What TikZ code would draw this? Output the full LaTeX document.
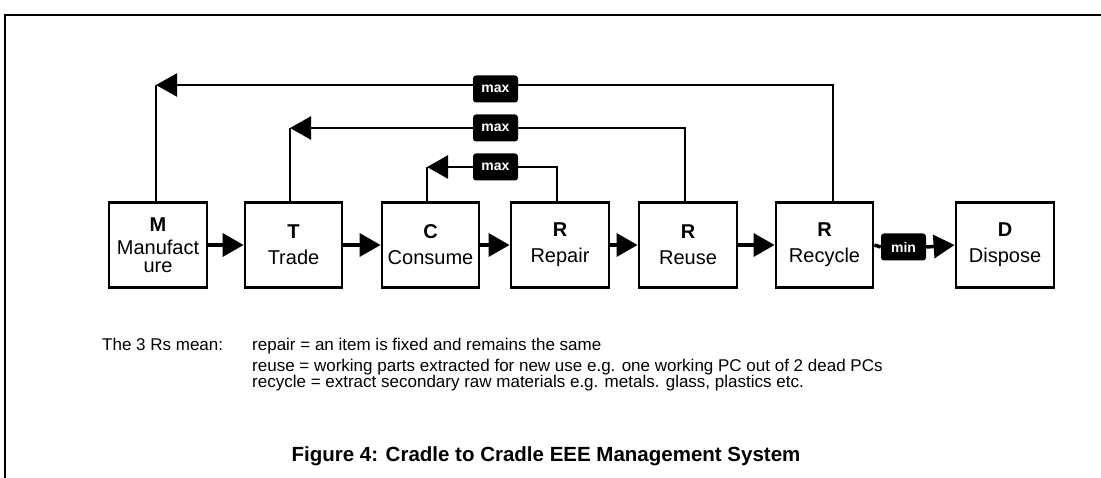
\documentclass[tikz,border=0pt]{standalone}
\usepackage{fontspec}
\setmainfont{Liberation Sans}
\usetikzlibrary{arrows.meta}
\tikzset{
  stage/.style={draw=black, line width=2.8pt, minimum height=85pt, inner sep=0pt, align=center, font=\fontsize{20}{26}\selectfont},
  tagbox/.style={fill=black, rounded corners=3pt, minimum width=45pt, minimum height=27pt, inner sep=0pt, text=white, font=\bfseries\fontsize{14}{14}\selectfont},
  flow/.style={line width=3.5pt, -{Triangle[length=21pt,width=23pt]}},
  back/.style={line width=2.5pt, -{Triangle[length=21pt,width=23pt]}},
  plain/.style={line width=2.5pt},
  plainthick/.style={line width=3.5pt},
  note/.style={anchor=base west, inner sep=0pt, font=\fontsize{17}{18}\selectfont}
}
\newcommand{\letter}[1]{{\bfseries\fontsize{20}{20}\selectfont #1}}
\begin{document}
\begin{tikzpicture}[x=1pt,y=-1pt]
\useasboundingbox (0,0) rectangle (1101,478);
% frame
\draw[line width=1.8pt] (5,478) -- (5,15) -- (1101,15);
% stages
\node[stage, minimum width=98pt] (M) at (158,245) {\letter{M}\\[-3pt]Manufact\\[-8pt]ure};
\node[stage, minimum width=97pt] (T) at (293.5,245) {\letter{T}\\Trade};
\node[stage, minimum width=97pt] (C) at (430.5,245) {\letter{C}\\Consume};
\node[stage, minimum width=98pt] (Rp) at (560,245) {\letter{R}\\Repair};
\node[stage, minimum width=98pt] (Ru) at (688,245) {\letter{R}\\Reuse};
\node[stage, minimum width=97pt] (Rc) at (824.5,245) {\letter{R}\\Recycle};
\node[stage, minimum width=98pt] (D) at (1005,245) {\letter{D}\\Dispose};
% forward flow
\draw[flow] (M.east) -- (T.west);
\draw[flow] (T.east) -- (C.west);
\draw[flow] (C.east) -- (Rp.west);
\draw[flow] (Rp.east) -- (Ru.west);
\draw[flow] (Ru.east) -- (Rc.west);
\node[tagbox] (mn) at (903.5,247) {min};
\draw[plainthick] (Rc.east) -- (mn.west);
\draw[flow] (mn.east) -- (D.west);
% feedback loops
\coordinate (k1) at (156,85);
\coordinate (k2) at (290,128);
\coordinate (k3) at (427,167);
\draw[back] ([xshift=8.5pt]Rc.north) |- (k1);
\draw[plain] (k1) -- (k1 |- M.north);
\draw[back] ([xshift=-3pt]Ru.north) |- (k2);
\draw[plain] (k2) -- (k2 |- T.north);
\draw[back] ([xshift=-3pt]Rp.north) |- (k3);
\draw[plain] (k3) -- (k3 |- C.north);
\node[tagbox] (x1) at (495.5,89) {max};
\node[tagbox] (x2) at (495.5,128) {max};
\node[tagbox] (x3) at (495.5,167) {max};
% notes
\node[note] (n0) at (102,351) {The 3 Rs mean:};
\node[note] (n1) at (252,351) {repair = an item is fixed and remains the same};
\node[note] (n2) at (252,372) {reuse = working parts extracted for new use e.g. one working PC out of 2 dead PCs};
\node[note] (n3) at (252,388) {recycle = extract secondary raw materials e.g. metals. glass, plastics etc.};
\node[font=\bfseries\fontsize{20.5}{22}\selectfont, anchor=base, inner sep=0pt] (cap) at (546,461) {Figure 4: Cradle to Cradle EEE Management System};
\end{tikzpicture}
\end{document}
